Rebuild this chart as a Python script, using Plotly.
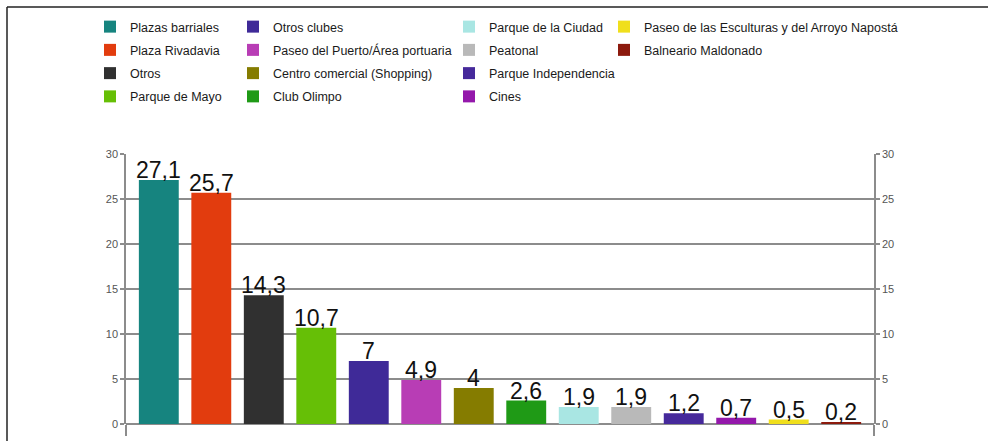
import plotly.graph_objects as go

# Lugares visitados (%)
categories = [
    "Plazas barriales", "Plaza Rivadavia", "Otros", "Parque de Mayo",
    "Otros clubes", "Paseo del Puerto/Área portuaria", "Centro comercial (Shopping)", "Club Olimpo",
    "Parque de la Ciudad", "Peatonal", "Parque Independencia", "Cines",
    "Paseo de las Esculturas y del Arroyo Napostá", "Balneario Maldonado",
]
values = [27.1, 25.7, 14.3, 10.7, 7, 4.9, 4, 2.6, 1.9, 1.9, 1.2, 0.7, 0.5, 0.2]
colors = [
    "#16847f", "#e23c0e", "#303030", "#66bf06",
    "#3f2a98", "#b83db5", "#857c00", "#1f9a16",
    "#a9e6e3", "#b9b9b9", "#46299b", "#9418ab",
    "#f0df1c", "#8c1a0d",
]
y_ticks = [0, 5, 10, 15, 20, 25, 30]

W, H = 988, 441
L, R, T, B = 126, 114, 154, 17
plot_w = W - L - R
plot_h = H - T - B

def px_x(px):
    return (px - L) / plot_w

def px_y(py):
    return (H - B - py) / plot_h

legend_names = ["legend", "legend2", "legend3", "legend4"]

fig = go.Figure()
for i, (cat, val, col) in enumerate(zip(categories, values, colors)):
    fig.add_trace(go.Bar(
        x=[i], y=[val], name=cat, marker=dict(color=col, line=dict(width=0)),
        width=0.76, legend=legend_names[min(i // 4, 3)], legendgroup=cat,
        hoverinfo="name+y",
    ))

# secondary axis carrying the right-hand tick labels
fig.add_trace(go.Scatter(x=[None], y=[None], yaxis="y2", showlegend=False, hoverinfo="skip"))

def fmt(v):
    return f"{v:g}".replace(".", ",")

for i, val in enumerate(values):
    fig.add_annotation(
        x=i, y=val, text=fmt(val), showarrow=False, xanchor="center", yanchor="bottom",
        yshift=-5, font=dict(size=23, color="#111111", family="Liberation Sans, Arial"),
    )

axis_grey = "#8c8c8c"
tick_font = dict(size=11, color="#555555", family="Liberation Sans, Arial")

legend_cols_px = [90, 233, 449, 604]
legend_common = dict(
    orientation="v", yanchor="top", xanchor="left", bgcolor="rgba(0,0,0,0)",
    font=dict(size=12.5, color="#1a1a1a", family="Liberation Sans, Arial"),
    tracegroupgap=4, itemclick=False, itemdoubleclick=False,
)
legends = {}
for name, lx in zip(legend_names, legend_cols_px):
    legends[name] = dict(x=px_x(lx), y=px_y(12), **legend_common)

n = len(values)
pad = 0.125  # inset of the first/last category from the vertical axes

fig.update_layout(
    width=W, height=H,
    margin=dict(l=L, r=R, t=T, b=B, autoexpand=False),
    paper_bgcolor="white", plot_bgcolor="white",
    barmode="overlay",
    showlegend=True,
    xaxis=dict(
        range=[-0.5 - pad, n - 0.5 + pad], showgrid=False, zeroline=False,
        showticklabels=False, tickvals=[-0.5 - pad, n - 0.5 + pad],
        ticks="outside", ticklen=11, tickcolor=axis_grey, tickwidth=1.5,
        showline=False, fixedrange=True, automargin=False,
    ),
    yaxis=dict(
        range=[0, 30], tickvals=y_ticks, showgrid=True, gridcolor=axis_grey, gridwidth=1.5,
        zeroline=True, zerolinecolor=axis_grey, zerolinewidth=1.5,
        showline=True, linecolor=axis_grey, linewidth=1.5,
        ticks="outside", ticklen=4, tickcolor=axis_grey, tickwidth=1.5,
        tickfont=tick_font, fixedrange=True, automargin=False,
    ),
    yaxis2=dict(
        range=[0, 30], tickvals=y_ticks, overlaying="y", side="right", showgrid=False,
        zeroline=False, showline=True, linecolor=axis_grey, linewidth=1.5,
        ticks="outside", ticklen=4, tickcolor=axis_grey, tickwidth=1.5,
        tickfont=tick_font, fixedrange=True, automargin=False,
    ),
    shapes=[
        dict(type="line", xref="paper", yref="paper",
             x0=px_x(7), x1=px_x(7), y0=px_y(7), y1=px_y(H + 5),
             line=dict(color="#222222", width=1.5)),
        dict(type="line", xref="paper", yref="paper",
             x0=px_x(7), x1=px_x(W + 5), y0=px_y(7), y1=px_y(7),
             line=dict(color="#222222", width=1.5)),
    ],
    **legends,
)

fig.write_html("out.html")
